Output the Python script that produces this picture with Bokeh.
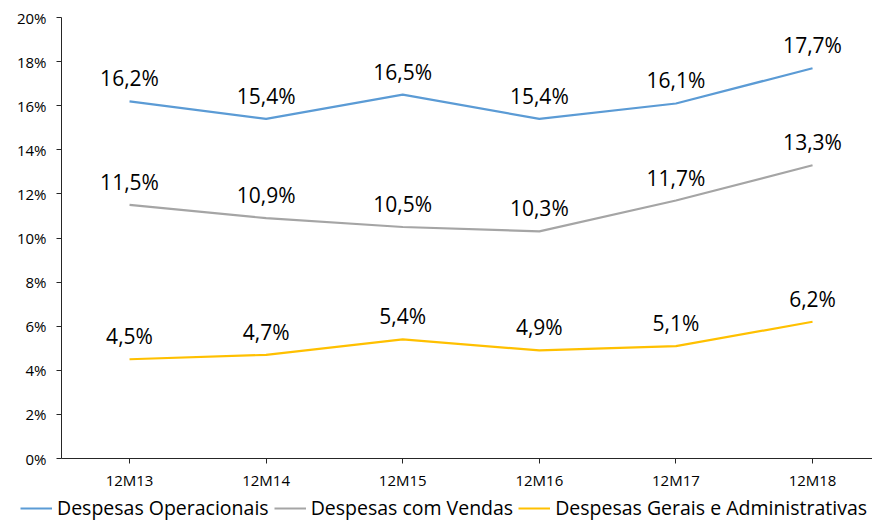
from bokeh.plotting import figure
from bokeh.layouts import column, row
from bokeh.models import Range1d, FixedTicker, Legend, LegendItem, ColumnDataSource
from bokeh.core.properties import value
from bokeh.embed import file_html
from bokeh.resources import INLINE

categories = ["12M13", "12M14", "12M15", "12M16", "12M17", "12M18"]
operacionais = [16.2, 15.4, 16.5, 15.4, 16.1, 17.7]
vendas = [11.5, 10.9, 10.5, 10.3, 11.7, 13.3]
gerais = [4.5, 4.7, 5.4, 4.9, 5.1, 6.2]
series_names = ["Despesas Operacionais", "Despesas com Vendas", "Despesas Gerais e Administrativas"]
colors = ["#5B9BD5", "#A5A5A5", "#FFC000"]
y_ticks = [0, 2, 4, 6, 8, 10, 12, 14, 16, 18, 20]

FONT = "Open Sans"
W = 872

p = figure(width=W, height=494, output_backend="svg", toolbar_location=None,
           x_range=Range1d(-0.498, 5.439), y_range=Range1d(0, 20),
           min_border_left=61, min_border_right=0, min_border_top=17, min_border_bottom=36)
p.outline_line_color = None
p.xgrid.visible = False
p.ygrid.visible = False

xs = list(range(len(categories)))
p.xaxis.ticker = FixedTicker(ticks=xs)
p.xaxis.major_label_overrides = {i: c for i, c in enumerate(categories)}
p.yaxis.ticker = FixedTicker(ticks=y_ticks)
p.yaxis.major_label_overrides = {t: f"{t}%" for t in y_ticks}

for ax in (p.xaxis, p.yaxis):
    ax.axis_line_color = "#262626"
    ax.major_tick_line_color = "#262626"
    ax.major_tick_in = 0
    ax.major_tick_out = 5
    ax.minor_tick_line_color = None
    ax.major_label_text_font = FONT
    ax.major_label_text_font_size = "15px"
    ax.major_label_text_color = "#000000"
p.xaxis.major_label_standoff = 6
p.yaxis.major_label_standoff = 10

all_series = [operacionais, vendas, gerais]
for name, vals, col in zip(series_names, all_series, colors):
    src = ColumnDataSource(dict(x=xs, y=vals, lab=[f"{v:.1f}".replace(".", ",") + "%" for v in vals]))
    p.line("x", "y", source=src, line_color=col, line_width=2.2)
    p.text("x", "y", text="lab", source=src, y_offset=-23, text_align="center",
           text_baseline="middle", text_font=value(FONT), text_font_size="21px",
           text_color="#000000")

# legend strip below the chart (its own figure so the legend is not clipped by the chart frame)
lg = figure(width=W, height=28, output_backend="svg", toolbar_location=None,
            x_range=Range1d(0, 1), y_range=Range1d(100, 101),
            x_axis_location=None, y_axis_location=None,
            min_border_left=0, min_border_right=0, min_border_top=0, min_border_bottom=0)
lg.outline_line_color = None
lg.xgrid.visible = False
lg.ygrid.visible = False
items = []
for name, vals, col in zip(series_names, all_series, colors):
    r = lg.line(x=xs, y=vals, line_color=col, line_width=2.2)  # outside the strip's view; legend swatch only
    items.append(LegendItem(label=name, renderers=[r]))
legend = Legend(items=items, location=(20, 1), orientation="horizontal",
                label_text_font=FONT, label_text_font_size="19.5px", label_text_color="#000000",
                glyph_width=32, label_standoff=5, spacing=5, padding=0, margin=0,
                border_line_color=None, background_fill_alpha=0)
lg.add_layout(legend, "center")

layout = column(p, row(lg, spacing=0), spacing=0)
open("out.html", "w").write(file_html(layout, INLINE))
